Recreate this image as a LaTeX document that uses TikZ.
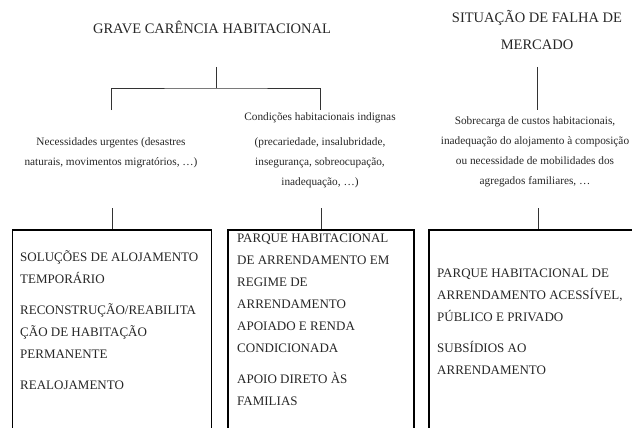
\documentclass[tikz,border=0pt]{standalone}
\usepackage{fontspec}
\setmainfont{Liberation Serif}
\usepackage{xcolor}
\usepackage{tikz}
\usetikzlibrary{positioning}
\tikzset{
  heading/.style={align=center, font=\fontsize{14.5}{27}\selectfont, text=black!85, inner sep=0pt},
  needtext/.style={align=center, font=\fontsize{11.3}{20}\selectfont, text=black!85, inner sep=0pt},
  answerbox/.style={draw, line width=1.8pt, minimum height=240pt, inner sep=0pt, anchor=north west},
  answertext/.style={align=left, font=\fontsize{13}{22}\selectfont, text=black!85, inner sep=0pt, anchor=north west},
  link/.style={draw=black!80, line width=0.8pt}
}

\begin{document}
\begin{tikzpicture}[x=1pt, y=1pt]

\useasboundingbox (0,0) rectangle (632,-428);
\clip (0,0) rectangle (632,-428);

% Headings
\node[heading, anchor=base] (grave) at (212,-34) {GRAVE CARÊNCIA HABITACIONAL};
\node[heading] (falha) at (537,-30) {SITUAÇÃO DE FALHA DE\\ MERCADO};

% Needs
\node[needtext] (urgent) at (111,-153) {Necessidades urgentes (desastres\\ naturais, movimentos migratórios, …)};
\node[needtext] (indignas) at (320,-150) {Condições habitacionais indignas\\[5pt] (precariedade, insalubridade,\\ insegurança, sobreocupação,\\ inadequação, …)};
\node[needtext] (sobrecarga) at (535,-152) {Sobrecarga de custos habitacionais,\\ inadequação do alojamento à composição\\ ou necessidade de mobilidades dos\\ agregados familiares, …};

% Answers
\node[answerbox, minimum width=199pt] (leftbox)  at (11.5,-229) {};
\node[answerbox, minimum width=186pt] (midbox)   at (227,-229) {};
\node[answerbox, minimum width=218pt] (rightbox) at (428,-229) {};

\node[answertext] (lefttext) at (20,-246) {\strut SOLUÇÕES DE ALOJAMENTO\\ TEMPORÁRIO\\[9pt]
  RECONSTRUÇÃO/REABILITA\\ ÇÃO DE HABITAÇÃO\\ PERMANENTE\\[9pt] REALOJAMENTO};
\node[answertext] (midtext) at (237,-227) {\strut PARQUE HABITACIONAL\\ DE ARRENDAMENTO EM\\ REGIME DE\\
  ARRENDAMENTO\\ APOIADO E RENDA\\ CONDICIONADA\\[9pt] APOIO DIRETO ÀS\\ FAMILIAS};
\node[answertext] (righttext) at (437,-262) {\strut PARQUE HABITACIONAL DE\\ ARRENDAMENTO ACESSÍVEL,\\
  PÚBLICO E PRIVADO\\[9pt] SUBSÍDIOS AO\\ ARRENDAMENTO};

% Connector ends
\coordinate (gravefoot) at (216,-67);
\coordinate (split) at (216,-88);
\coordinate (urgenthead) at (111,-110);
\coordinate (indignashead) at (320,-110);
\coordinate (falhafoot) at (537,-67);
\coordinate (sobrecargahead) at (537,-110);
\coordinate (urgentfoot) at ([yshift=21pt]leftbox.north);
\coordinate (indignasfoot) at ([yshift=21pt]midbox.north);
\coordinate (sobrecargafoot) at ([yshift=21pt]rightbox.north);

% Connectors
\draw[link] (gravefoot) -- (split);
\draw[link] (urgenthead) |- (split) -| (indignashead);
\draw[link] (falhafoot) -- (sobrecargahead);
\draw[link] (urgentfoot) -- (leftbox.north);
\draw[link] (indignasfoot) -- (midbox.north);
\draw[link] (sobrecargafoot) -- (rightbox.north);

\end{tikzpicture}
\end{document}
